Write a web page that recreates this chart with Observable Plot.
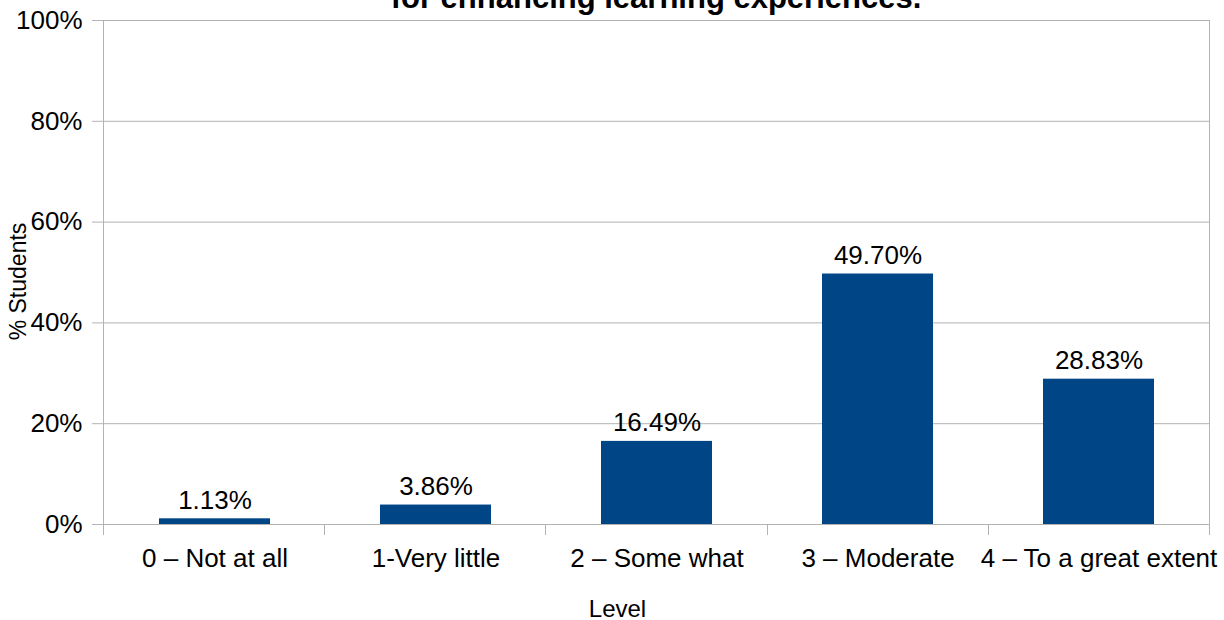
<!DOCTYPE html>
<html><head><meta charset="utf-8">
<script src="https://cdn.jsdelivr.net/npm/d3@7"></script>
<script src="https://cdn.jsdelivr.net/npm/@observablehq/plot@0.6"></script>
<style>
body{margin:0;background:#fff;overflow:hidden;}
#wrap{position:relative;width:1224px;height:620px;overflow:hidden;}
#title{position:absolute;left:103px;width:1106px;top:-18px;text-align:center;font:bold 31px/31px "Liberation Sans",Arial,sans-serif;color:#000;z-index:2;}
</style></head><body><div id="wrap"><div id="title">for enhancing learning experiences.</div></div>
<script>
const levels = ["0 – Not at all", "1-Very little", "2 – Some what", "3 – Moderate", "4 – To a great extent"];
const percents = [1.13, 3.86, 16.49, 49.70, 28.83];
const yTicks = [0, 20, 40, 60, 80, 100];
const yLabel = "% Students";
const xLabel = "Level";

const data = levels.map((level, i) => ({level, pct: percents[i]}));

function frameTicks(index, scales, values, dims) {
  const y = scales.y;
  const left = dims.marginLeft, right = dims.width - dims.marginRight;
  const n = levels.length, step = (right - left) / n;
  const y0 = y(0), yTop = y(100);
  const g = d3.create("svg:g").attr("stroke", "#b3b3b3").attr("stroke-width", 1);
  d3.range(n + 1).forEach(i => {
    const xx = Math.round(left + i * step) + 0.5;
    g.append("line").attr("x1", xx).attr("x2", xx)
      .attr("y1", (i === 0 || i === n) ? yTop : y0).attr("y2", y0 + 11);
  });
  return g.node();
}

const chart = Plot.plot({
  width: 1224,
  height: 620,
  marginTop: 20,
  marginBottom: 96,
  marginLeft: 103,
  marginRight: 15,
  style: {fontFamily: "'Liberation Sans', Arial, sans-serif", background: "transparent", color: "black"},
  x: {domain: levels, paddingInner: 0.5, paddingOuter: 0.25, label: null},
  y: {domain: [0, 100], label: null},
  marks: [
    Plot.ruleY(yTicks, {y: d => d, stroke: "#b3b3b3", strokeWidth: 1}),
    Plot.barY(data, {x: "level", y: "pct", fill: "#004586"}),
    frameTicks,
    Plot.axisY({ticks: yTicks, tickSize: 11, stroke: "#b3b3b3", strokeOpacity: 1, tickPadding: 10, tickFormat: d => d + "%", fontSize: 26, fill: "black", label: null}),
    Plot.axisX({tickSize: 0, tickPadding: 24, fontSize: 26, fill: "black", label: null}),
    Plot.text(data, {x: "level", y: "pct", text: d => d.pct.toFixed(2) + "%", dy: -10, lineAnchor: "bottom", fontSize: 26, fill: "black"}),
    Plot.text([xLabel], {frameAnchor: "bottom", textAnchor: "middle", dx: -39, dy: 92, lineAnchor: "bottom", fontSize: 24, fill: "black"}),
    Plot.text([yLabel], {frameAnchor: "left", textAnchor: "middle", rotate: -90, dx: -78, dy: 9, lineAnchor: "bottom", fontSize: 23, fill: "black"})
  ]
});
document.getElementById("wrap").appendChild(chart);
</script>
</body></html>
